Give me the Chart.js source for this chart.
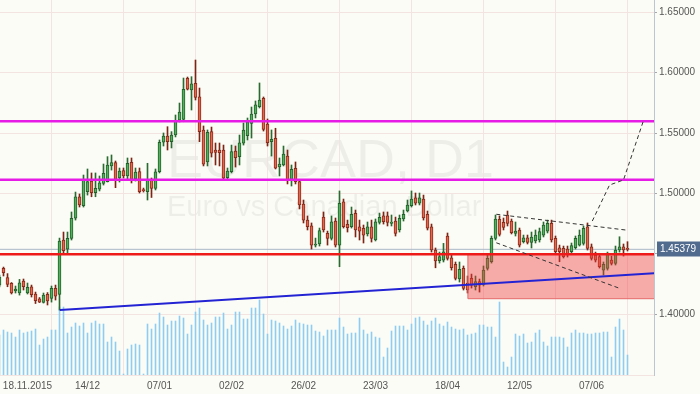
<!DOCTYPE html>
<html><head><meta charset="utf-8">
<script src="https://cdn.jsdelivr.net/npm/chart.js@4.4.1/dist/chart.umd.min.js"></script>
<style>html,body{margin:0;padding:0;background:#fcfcf6;overflow:hidden}canvas{display:block}</style>
</head><body>
<canvas id="c" width="700" height="394"></canvas>
<script>
// ---- data (daily bars, EURCAD D1) ----
const firstBar = -1; // bar number of the first element
const opens = [1.4242,1.4380,1.4303,1.4256,1.4193,1.4178,1.4275,1.4178,1.4228,1.4168,
1.4129,1.4099,1.4165,1.4132,1.4215,1.4165,1.4615,1.4540,1.4629,1.4795,
1.4973,1.4899,1.5015,1.5103,1.5006,1.5035,1.5084,1.5098,1.5228,1.5256,
1.5128,1.5190,1.5145,1.5258,1.5120,1.5182,1.5033,1.5015,1.5112,1.5043,
1.5180,1.5424,1.5476,1.5429,1.5484,1.5608,1.5614,1.5954,1.5857,1.5912,
1.5801,1.5526,1.5261,1.5512,1.5360,1.5360,1.5360,1.5131,1.5180,1.5352,
1.5305,1.5416,1.5478,1.5581,1.5658,1.5719,1.5788,1.5575,1.5429,1.5457,
1.5219,1.5236,1.5310,1.5117,1.5209,1.5098,1.4913,1.4780,1.4733,1.4573,
1.4582,1.4805,1.4670,1.4629,1.4772,1.4573,1.4932,1.4745,1.4725,1.4836,
1.4725,1.4712,1.4665,1.4725,1.4615,1.4761,1.4816,1.4816,1.4753,1.4772,
1.4698,1.4789,1.4855,1.4899,1.4965,1.4919,1.4954,1.4828,1.4725,1.4532,
1.4443,1.4449,1.4648,1.4468,1.4414,1.4292,1.4380,1.4259,1.4298,1.4228,
1.4270,1.4248,1.4380,1.4435,1.4629,1.4786,1.4761,1.4822,1.4772,1.4670,
1.4698,1.4601,1.4634,1.4596,1.4607,1.4615,1.4656,1.4689,1.4753,1.4629,
1.4551,1.4546,1.4540,1.4518,1.4551,1.4573,1.4587,1.4725,1.4559,1.4491,
1.4477,1.4366,1.4380,1.4449,1.4422,1.4532,1.4559,1.4546];
const highs = [1.4325,1.4391,1.4337,1.4263,1.4234,1.4289,1.4292,1.4259,1.4242,1.4184,
1.4139,1.4176,1.4180,1.4234,1.4242,1.4631,1.4681,1.4681,1.4847,1.5012,
1.4996,1.5153,1.5203,1.5170,1.5170,1.5145,1.5244,1.5305,1.5319,1.5269,
1.5211,1.5211,1.5294,1.5294,1.5211,1.5211,1.5045,1.5250,1.5128,1.5203,
1.5443,1.5501,1.5553,1.5512,1.5650,1.5749,1.5956,1.5964,1.5967,1.6105,
1.5873,1.5559,1.5526,1.5550,1.5418,1.5418,1.5401,1.5211,1.5401,1.5393,
1.5484,1.5584,1.5625,1.5716,1.5766,1.5915,1.5799,1.5617,1.5526,1.5540,
1.5294,1.5393,1.5360,1.5236,1.5261,1.5112,1.4946,1.4814,1.4756,1.4631,
1.4714,1.4847,1.4689,1.4814,1.4797,1.5021,1.4954,1.4780,1.4888,1.4863,
1.4780,1.4739,1.4764,1.4780,1.4789,1.4838,1.4847,1.4847,1.4822,1.4805,
1.4822,1.4863,1.4946,1.5021,1.5004,1.5004,1.4987,1.4855,1.4747,1.4549,
1.4515,1.4587,1.4673,1.4491,1.4433,1.4433,1.4400,1.4317,1.4333,1.4317,
1.4292,1.4400,1.4491,1.4648,1.4822,1.4814,1.4797,1.4855,1.4789,1.4764,
1.4714,1.4656,1.4656,1.4681,1.4698,1.4714,1.4764,1.4780,1.4780,1.4648,
1.4573,1.4565,1.4565,1.4590,1.4648,1.4698,1.4731,1.4756,1.4582,1.4515,
1.4499,1.4433,1.4515,1.4482,1.4565,1.4642,1.4582,1.4601];
const lows = [1.4226,1.4317,1.4228,1.4168,1.4176,1.4159,1.4201,1.4168,1.4143,1.4089,
1.4097,1.4093,1.4077,1.4101,1.4118,1.4035,1.4507,1.4507,1.4615,1.4780,
1.4888,1.4888,1.4987,1.4973,1.4973,1.5021,1.5070,1.5095,1.5194,1.5048,
1.5095,1.5128,1.5112,1.5087,1.5103,1.5004,1.5012,1.4946,1.4967,1.5029,
1.5170,1.5393,1.5360,1.5377,1.5468,1.5592,1.5594,1.5857,1.5691,1.5774,
1.5429,1.5228,1.5228,1.5302,1.5236,1.5228,1.5120,1.5116,1.5170,1.5219,
1.5236,1.5401,1.5443,1.5459,1.5625,1.5708,1.5517,1.5393,1.5310,1.5203,
1.5145,1.5228,1.5079,1.5062,1.5079,1.4872,1.4756,1.4698,1.4540,1.4557,
1.4565,1.4681,1.4573,1.4615,1.4557,1.4394,1.4714,1.4681,1.4714,1.4640,
1.4615,1.4590,1.4648,1.4598,1.4607,1.4747,1.4747,1.4731,1.4731,1.4648,
1.4681,1.4772,1.4847,1.4888,1.4905,1.4905,1.4780,1.4698,1.4515,1.4385,
1.4424,1.4433,1.4449,1.4366,1.4284,1.4267,1.4201,1.4176,1.4217,1.4201,
1.4184,1.4234,1.4366,1.4424,1.4615,1.4648,1.4698,1.4731,1.4665,1.4648,
1.4557,1.4590,1.4582,1.4549,1.4590,1.4598,1.4640,1.4673,1.4598,1.4507,
1.4435,1.4466,1.4474,1.4507,1.4540,1.4565,1.4573,1.4532,1.4449,1.4433,
1.4383,1.4325,1.4366,1.4408,1.4408,1.4515,1.4482,1.4524];
const closes = [1.4308,1.4344,1.4248,1.4178,1.4209,1.4261,1.4228,1.4223,1.4162,1.4112,
1.4101,1.4159,1.4110,1.4215,1.4151,1.4607,1.4526,1.4629,1.4795,1.4973,
1.4905,1.5112,1.5098,1.5006,1.5043,1.5089,1.5167,1.5236,1.5255,1.5116,
1.5186,1.5145,1.5250,1.5116,1.5178,1.5015,1.5023,1.5112,1.5043,1.5180,
1.5424,1.5476,1.5429,1.5484,1.5604,1.5675,1.5863,1.5863,1.5907,1.5796,
1.5512,1.5242,1.5507,1.5333,1.5341,1.5338,1.5126,1.5186,1.5346,1.5296,
1.5420,1.5526,1.5594,1.5658,1.5733,1.5774,1.5531,1.5420,1.5449,1.5209,
1.5244,1.5327,1.5112,1.5200,1.5098,1.4905,1.4780,1.4725,1.4573,1.4582,
1.4692,1.4698,1.4629,1.4766,1.4573,1.4919,1.4725,1.4717,1.4828,1.4698,
1.4689,1.4656,1.4725,1.4629,1.4766,1.4803,1.4766,1.4761,1.4764,1.4670,
1.4795,1.4828,1.4905,1.4954,1.4919,1.4965,1.4797,1.4712,1.4532,1.4441,
1.4477,1.4518,1.4463,1.4385,1.4298,1.4372,1.4215,1.4201,1.4242,1.4270,
1.4242,1.4366,1.4463,1.4629,1.4789,1.4662,1.4720,1.4753,1.4675,1.4689,
1.4573,1.4634,1.4596,1.4640,1.4656,1.4684,1.4739,1.4753,1.4615,1.4518,
1.4518,1.4477,1.4491,1.4568,1.4629,1.4656,1.4712,1.4546,1.4463,1.4449,
1.4394,1.4414,1.4496,1.4422,1.4532,1.4559,1.4532,1.4538];
const volumes = [40,45,43,42,38,45,42,43,44,46,
30,36,38,45,45,68,68,42,48,52,
49,52,42,52,54,51,51,33,38,33,
24,1,26,30,31,30,1,51,46,51,
62,58,50,54,54,59,57,41,50,63,
67,55,50,52,58,58,62,46,50,63,
63,56,56,67,67,75,61,41,55,54,
52,49,46,49,55,52,51,50,50,44,
43,39,45,45,45,57,48,41,42,42,
57,45,41,43,38,37,18,27,44,49,
49,49,45,51,57,58,54,50,54,57,
51,49,53,48,46,45,46,40,41,42,
50,50,48,48,38,73,13,8,18,41,
39,41,32,33,42,45,33,29,38,38,
38,37,28,42,45,42,42,41,41,42,
42,43,43,18,48,56,45,20];
const dateTickBars = [3,21,39,57,75,93,111,129,147];
const dateTickLabels = ['18.11.2015','14/12','07/01','02/02','26/02','23/03','18/04','12/05','07/06'];
const priceTicks = [1.40,1.45,1.50,1.55,1.60,1.65];
const lastPrice = 1.45379;
const symbolTitle = 'EURCAD, D1';
const symbolSubtitle = 'Euro vs Canadian Dollar';
// drawn objects (bar number, price)
const resistanceHigh = 1.5598;
const resistanceLow = 1.5114;
const supportLevel = 1.4497;
const trendLine = [[14.1,1.4036],[164,1.4342]];
const zoneBars = [116.1,164];
const zonePrices = [1.4129,1.4497];
const channelTop = [[123.2,1.4828],[156.2,1.4695]];
const channelBottom = [[123.2,1.4592],[154.25,1.4212]];
const projection = [[147.2,1.4772],[151.5,1.5070],[155,1.5112],[160.1,1.5614]];

// ---- chart ----
const FONT = '"Liberation Sans", Arial, sans-serif';
Chart.defaults.font.family = FONT;
const barIdx = opens.map((_, k) => firstBar + k);
const up = k => closes[k] >= opens[k];
const pts = arr => arr.map(p => ({x: p[0], y: p[1]}));
const hline = v => [{x: -2, y: v}, {x: 165, y: v}];
const X_MIN = -0.875, X_MAX = 162.625;
const Y_MIN = 1.34975, Y_MAX = 1.66018;
const gridColor = '#f3e4e2';

const lineDs = (label, data, color, width, order, extra) => Object.assign({
  type: 'line', label, data, borderColor: color, borderWidth: width, pointRadius: 0,
  tension: 0, fill: false, order, clip: 0, xAxisID: 'x', yAxisID: 'y'
}, extra || {});

const bgPlugin = {
  id: 'bg',
  beforeDraw(c) {
    const ctx = c.ctx;
    ctx.save();
    ctx.fillStyle = '#fcfcf6';
    ctx.fillRect(0, 0, c.width, c.height);
    ctx.fillStyle = 'rgba(0,0,0,0.055)';
    ctx.textBaseline = 'alphabetic';
    ctx.font = '54px ' + FONT;
    ctx.fillText(symbolTitle, 167, 177);
    ctx.font = '29px ' + FONT;
    ctx.fillText(symbolSubtitle, 167, 216);
    ctx.restore();
  }
};
const priceBoxPlugin = {
  id: 'pricebox',
  afterDraw(c) {
    const ctx = c.ctx, y = c.scales.y.getPixelForValue(lastPrice);
    ctx.save();
    ctx.fillStyle = '#506b8d';
    ctx.fillRect(657, Math.round(y) - 7.5, 43, 15);
    ctx.fillStyle = '#ffffff';
    ctx.font = '10px ' + FONT;
    ctx.textBaseline = 'middle';
    ctx.fillText(lastPrice.toFixed(5), 660, Math.round(y));
    ctx.restore();
  }
};

new Chart(document.getElementById('c'), {
  type: 'bar',
  data: { datasets: [
    { label: 'Volume', data: volumes.map((v, k) => ({x: barIdx[k], y: v})), xAxisID: 'x', yAxisID: 'yv',
      backgroundColor: '#8ecdf0', barThickness: 1, grouped: false, order: 20 },
    lineDs('Last', hline(lastPrice), '#aab7c8', 1, 15),
    { label: 'Wicks', data: barIdx.map((x, k) => ({x, y: [lows[k], highs[k]]})), xAxisID: 'x', yAxisID: 'y',
      backgroundColor: barIdx.map((_, k) => up(k) ? '#2b6a30' : '#7e2415'),
      barThickness: 1, grouped: false, order: 12 },
    { label: 'Bodies', data: barIdx.map((x, k) => ({x, y: [opens[k], closes[k]]})), xAxisID: 'x', yAxisID: 'y',
      backgroundColor: barIdx.map((_, k) => up(k) ? '#52b15c' : '#e2694f'),
      borderColor: barIdx.map((_, k) => up(k) ? '#22602a' : '#8a2a18'),
      borderWidth: 1, borderSkipped: false, barThickness: 3, minBarLength: 1, grouped: false, order: 11 },
    lineDs('Zone', [
      {x: zoneBars[0], y: zonePrices[0]}, {x: zoneBars[0], y: zonePrices[1]},
      {x: zoneBars[1], y: zonePrices[1]}, {x: zoneBars[1], y: zonePrices[0]},
      {x: zoneBars[0], y: zonePrices[0]}], '#e56a6a', 1, 8,
      {fill: 'shape', backgroundColor: 'rgba(240,60,60,0.42)'}),
    lineDs('Support', hline(supportLevel), '#ee1a1a', 2.5, 6),
    lineDs('ResistanceHigh', hline(resistanceHigh), '#e61ce6', 2.5, 5),
    lineDs('ResistanceLow', hline(resistanceLow), '#e61ce6', 2.5, 5),
    lineDs('Trend', pts(trendLine), '#2323d4', 2, 4),
    lineDs('ChannelTop', pts(channelTop), '#333333', 1, 2, {borderDash: [4, 3]}),
    lineDs('ChannelBottom', pts(channelBottom), '#333333', 1, 2, {borderDash: [4, 3]}),
    lineDs('Projection', pts(projection), '#333333', 1, 2, {borderDash: [4, 3]})
  ]},
  options: {
    responsive: false, animation: false, devicePixelRatio: 1, events: [],
    layout: { padding: 0 },
    plugins: { legend: { display: false }, tooltip: { enabled: false } },
    scales: {
      x: {
        type: 'linear', min: X_MIN, max: X_MAX, offset: false, position: 'bottom', weight: 0,
        afterBuildTicks: s => { s.ticks = dateTickBars.map(v => ({value: v})); },
        ticks: { display: false },
        grid: { color: gridColor, drawTicks: false },
        border: { display: true, color: gridColor },
        afterFit: s => { s.height = 0; s.paddingLeft = 0; s.paddingRight = 0; }
      },
      xl: {
        type: 'linear', min: X_MIN, max: X_MAX, offset: false, position: 'bottom', weight: 1,
        afterBuildTicks: s => { s.ticks = dateTickBars.map((v, k) => ({value: k === 0 ? v + 3 : v})); },
        ticks: { autoSkip: false, maxRotation: 0, padding: 5, color: '#555555', font: { size: 10 },
                 callback: (v, k) => dateTickLabels[k] },
        grid: { display: false, drawTicks: false },
        border: { display: false },
        afterFit: s => { s.height = 19; s.paddingLeft = 0; s.paddingRight = 0; }
      },
      y: {
        position: 'right', min: Y_MIN, max: Y_MAX,
        afterBuildTicks: s => { s.ticks = priceTicks.map(v => ({value: v})); },
        ticks: { autoSkip: false, padding: 2, color: '#555555', font: { size: 10 },
                 callback: v => Math.abs(v - lastPrice) < 0.006 ? '' : v.toFixed(5) },
        grid: { color: gridColor, tickColor: '#a8a8a8', tickLength: 3 },
        border: { display: true, color: '#bcc6d0' },
        afterFit: s => { s.width = 46; s.paddingTop = 0; s.paddingBottom = 0; }
      },
      yv: { display: false, min: 0, max: 375 }
    }
  },
  plugins: [bgPlugin, priceBoxPlugin]
});
</script>
</body></html>
